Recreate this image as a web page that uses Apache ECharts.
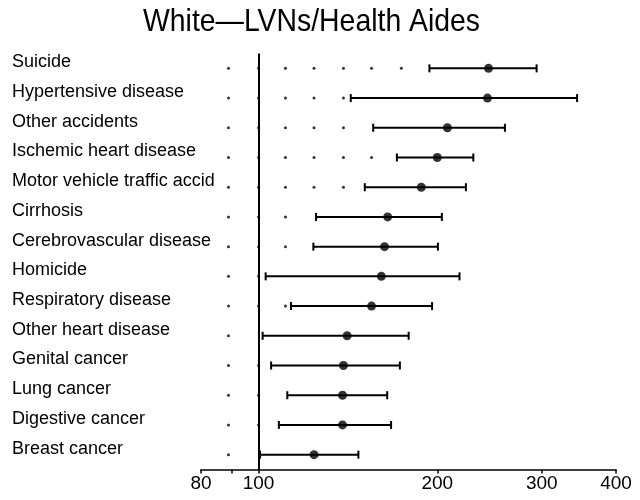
<!DOCTYPE html>
<html>
<head>
<meta charset="utf-8">
<script src="https://cdn.jsdelivr.net/npm/echarts@6/dist/echarts.min.js"></script>
<style>
  html, body { margin: 0; padding: 0; background: #fff; }
  #chart { width: 640px; height: 500px; }
</style>
</head>
<body>
<div id="chart"></div>
<script>
const causes = [
  'Suicide', 'Hypertensive disease', 'Other accidents', 'Ischemic heart disease',
  'Motor vehicle traffic accid', 'Cirrhosis', 'Cerebrovascular disease', 'Homicide',
  'Respiratory disease', 'Other heart disease', 'Genital cancer', 'Lung cancer',
  'Digestive cancer', 'Breast cancer'
]
const ratio = [244, 243, 208, 200, 188, 165, 163, 161, 155, 141, 139, 138.5, 138.5, 124]
const lower = [194, 143, 156, 171, 151, 125, 123.7, 102.8, 113.4, 101.6, 105, 111.8, 108.2, 100.6]
const upper = [294, 344, 260, 230, 223.5, 203.6, 200.5, 218, 196, 179, 173, 164.7, 167.2, 147.3]
const dotSteps = [89, 100, 111, 124, 139, 155, 174]
const tickValues = [80, 90, 100, 200, 300, 400]
const labelValues = [80, 100, 200, 300, 400]

const font = '"Liberation Sans", Arial, sans-serif'

// dot leaders left of each interval
const dots = []
causes.forEach((name, i) => {
  dotSteps.forEach((v) => {
    if (v < lower[i] / 1.02) dots.push([v, name])
  })
})

const chart = echarts.init(document.getElementById('chart'), null, { renderer: 'canvas' })

chart.setOption({
  animation: false,
  backgroundColor: '#fff',
  // title drawn as graphic so it can be squeezed like the condensed original
  graphic: [
    {
      type: 'text',
      x: 143,
      y: 6,
      scaleX: 0.887,
      style: {
        text: 'White\u2014LVNs/Health Aides',
        fontFamily: font,
        fontSize: 32,
        fill: '#000',
        verticalAlign: 'top'
      }
    }
  ],
  grid: { left: 201, right: 24, top: 53.5, height: 416 },
  xAxis: {
    type: 'log',
    logBase: 10,
    min: 80,
    max: 400,
    axisLine: { show: true, onZero: false, lineStyle: { color: '#000', width: 1.5 } },
    axisTick: { show: true, customValues: tickValues, length: 4, lineStyle: { color: '#000', width: 1.5 } },
    axisLabel: { customValues: labelValues, color: '#000', fontSize: 19, fontFamily: font, margin: 5 },
    splitLine: { show: false },
    minorTick: { show: false }
  },
  yAxis: {
    type: 'category',
    inverse: true,
    data: causes,
    axisLine: { show: false },
    axisTick: { show: false },
    axisLabel: {
      align: 'left',
      verticalAlign: 'bottom',
      lineHeight: 12,
      margin: 189,
      color: '#000',
      fontSize: 18,
      fontFamily: font
    }
  },
  series: [
    {
      name: 'dots',
      type: 'scatter',
      data: dots,
      symbol: 'circle',
      symbolSize: 3,
      itemStyle: { color: '#000' },
      z: 1
    },
    {
      name: 'ci',
      type: 'custom',
      data: causes.map((name, i) => [lower[i], upper[i], name]),
      encode: { x: [0, 1], y: 2 },
      renderItem: (params, api) => {
        const a = api.coord([api.value(0), api.value(2)])
        const b = api.coord([api.value(1), api.value(2)])
        const h = 4
        const style = { stroke: '#000', lineWidth: 2 }
        return {
          type: 'group',
          children: [
            { type: 'line', shape: { x1: a[0], y1: a[1], x2: b[0], y2: b[1] }, style },
            { type: 'line', shape: { x1: a[0], y1: a[1] - h, x2: a[0], y2: a[1] + h }, style },
            { type: 'line', shape: { x1: b[0], y1: b[1] - h, x2: b[0], y2: b[1] + h }, style }
          ]
        }
      },
      z: 2
    },
    {
      name: 'ratio',
      type: 'scatter',
      data: causes.map((name, i) => [ratio[i], name]),
      symbol: 'circle',
      symbolSize: 9,
      itemStyle: { color: '#000' },
      markLine: {
        silent: true,
        symbol: 'none',
        label: { show: false },
        lineStyle: { color: '#000', type: 'solid', width: 2 },
        data: [{ xAxis: 100 }]
      },
      z: 3
    }
  ]
})
</script>
</body>
</html>
